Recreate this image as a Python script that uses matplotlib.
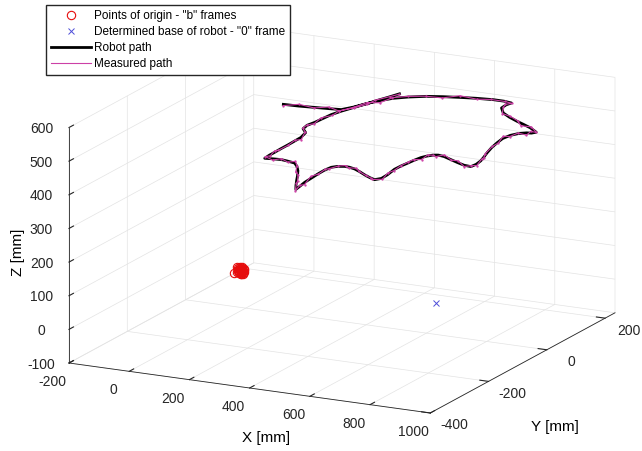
import numpy as np
import matplotlib
matplotlib.use('Agg')
import matplotlib.pyplot as plt
from matplotlib.transforms import ScaledTranslation
from mpl_toolkits.mplot3d import proj3d

W, H = 642, 451

# points of origin of the "b" frames [mm]
origin_x = [-32, -27, -36, -24, -39, -29, -34, -22, -41, -26, -37, -31, -20, -43, -28, -35, -25, -40, -30, -23, -38, -32, -21, -42, -27, -52]
origin_y = [15, 15, 15, 15, 15, 15, 15, 15, 15, 15, 15, 15, 15, 15, 15, 15, 15, 15, 15, 15, 15, 15, 15, 15, 15, 15]
origin_z = [0, 3, 6, -5, -3, -9, 10, 4, 2, 9, -8, -4, -1, -6, 12, 3, -10, 8, 6, 1, -1, -11, 8, 10, -2, -9]

# determined base of robot ("0" frame)
base_x, base_y, base_z = [643], [-10], [0]

# robot path [mm]
robot_x = [90, 138, 184, 230, 269, 289, 306, 326, 351, 385, 429, 475, 522, 570, 622, 658, 687, 682, 685, 714,
           751, 790, 822, 858, 895, 887, 873, 855, 842, 837, 843, 852, 865, 879, 888, 893, 890, 866, 835, 801,
           770, 748, 733, 722, 714, 709, 706, 702, 701, 709, 711, 699, 676, 650, 620, 594, 572, 555, 536, 524,
           520, 521, 524, 527, 533, 538, 519, 497, 475, 452, 427, 406, 377, 354, 327, 304, 301, 301, 300, 300,
           299, 298, 287, 261, 255, 261, 263, 267, 277, 291, 307, 318, 333, 346]
robot_y = [36, 38, 42, 46, 50, 71, 97, 121, 143, 160, 176, 186, 194, 201, 206, 206, 202, 189, 170, 146,
           129, 114, 103, 90, 72, 64, 62, 53, 38, 17, -8, -36, -65, -92, -111, -132, -147, -145, -136, -125,
           -115, -112, -116, -125, -136, -154, -173, -193, -214, -246, -269, -280, -273, -263, -250, -240, -235, -234, -239, -248,
           -267, -290, -316, -342, -364, -384, -364, -339, -313, -288, -266, -252, -247, -244, -246, -249, -230, -213, -190, -166,
           -143, -119, -91, -73, -53, -33, -14, 18, 43, 68, 96, 119, 145, 170]
robot_z = [500] * len(robot_x)

# measured path [mm]
meas_x = [93, 136, 188, 229, 265, 291, 306, 331, 348, 386, 424, 478, 521, 572, 618, 662, 685, 682, 688, 711,
          756, 789, 818, 859, 897, 882, 877, 853, 843, 834, 846, 852, 861, 881, 887, 897, 887, 869, 833, 805,
          769, 744, 735, 722, 719, 706, 707, 697, 704, 708, 713, 695, 680, 648, 620, 597, 569, 560, 535, 520,
          521, 523, 519, 531, 531, 539, 516, 500, 475, 448, 429, 405, 381, 351, 330, 302, 305, 300, 296, 302,
          299, 303, 284, 262, 250, 264, 262, 269, 273, 295, 305, 318, 336, 343]
meas_y = [33, 42, 41, 48, 46, 71, 100, 118, 144, 158, 180, 181, 196, 202, 202, 205, 207, 186, 173, 146,
          127, 118, 99, 92, 71, 67, 57, 54, 35, 22, -8, -34, -69, -93, -107, -134, -144, -148, -132, -126,
          -113, -116, -116, -122, -139, -153, -175, -189, -219, -244, -268, -284, -274, -258, -253, -237, -235, -236, -235, -252,
          -265, -291, -313, -347, -363, -387, -359, -339, -311, -292, -267, -248, -249, -241, -249, -245, -231, -211, -194, -166,
          -140, -122, -90, -75, -49, -38, -12, 19, 39, 67, 101, 116, 148, 170]
meas_z = [498, 503, 499, 504, 497, 500, 502, 496, 501, 503, 498, 499, 504, 497, 502, 500, 496, 503, 501, 498,
          504, 499, 497, 502, 500, 503, 496, 501, 498, 504, 499, 502, 497, 500, 503, 498, 501, 498, 503, 499,
          504, 497, 500, 502, 496, 501, 503, 498, 499, 504, 497, 502, 500, 496, 503, 501, 498, 504, 499, 497,
          502, 500, 503, 496, 501, 498, 504, 499, 502, 497, 500, 503, 498, 501, 498, 503, 499, 504, 497, 500,
          502, 496, 501, 503, 498, 499, 504, 497, 502, 500, 496, 503, 501, 498]

x_ticks = [-200, 0, 200, 400, 600, 800, 1000]
y_ticks = [-400, -200, 0, 200]
z_ticks = [-100, 0, 100, 200, 300, 400, 500, 600]

plt.rcParams['font.family'] = ['Liberation Sans', 'DejaVu Sans']
plt.rcParams['axes.unicode_minus'] = False
plt.rcParams['grid.color'] = '#e3e3e3'
plt.rcParams['grid.linewidth'] = 0.5

fig = plt.figure(figsize=(W / 100, H / 100), dpi=100)
ax = fig.add_axes([0, 0, 1, 1], projection='3d', proj_type='ortho')
ax.computed_zorder = False
ax.view_init(elev=15.9, azim=-63.2)
ax.set_box_aspect((405, 410, 245))

ax.plot(origin_x, origin_y, origin_z, 'o', mec=(0.9, 0.05, 0.05), mfc='none', ms=6, mew=0.8,
        label='Points of origin - "b" frames')
ax.plot(base_x, base_y, base_z, 'x', color=(0.3, 0.3, 0.85), ms=5, mew=0.7,
        label='Determined base of robot - "0" frame')
ax.plot(robot_x, robot_y, robot_z, '-', color='k', lw=2, label='Robot path')
ax.plot(meas_x, meas_y, meas_z, '-', color=(0.8, 0.25, 0.65), lw=0.8, label='Measured path')
ax.plot(meas_x, meas_y, meas_z, '.', color=(0.8, 0.25, 0.65), ms=1.3, label='_nolegend_')

ax.set_xlim(-200, 1000)
ax.set_ylim(-400, 234)
ax.set_zlim(-100, 600)
ax.set_xticks(x_ticks)
ax.set_yticks(y_ticks)
ax.set_zticks(z_ticks)
for axis in (ax.xaxis, ax.yaxis, ax.zaxis):
    axis.set_rotate_label(False)
ax.set_xlabel('X [mm]', fontsize=11, rotation=0)
ax.set_ylabel('Y [mm]', fontsize=11, rotation=0)
ax.set_zlabel('Z [mm]', fontsize=11, rotation=90)
ax.zaxis.set_ticks_position('lower')
ax.zaxis.set_label_position('lower')
for axis in (ax.xaxis, ax.yaxis, ax.zaxis):
    axis.set_pane_color((1, 1, 1, 1))
    axis.line.set_color((0.15, 0.15, 0.15))
    axis.line.set_linewidth(0.6)
    axis._axinfo['tick']['inward_factor'] = 0
    axis._axinfo['tick']['outward_factor'] = 0.3
ax.tick_params(labelsize=10, colors=(0.15, 0.15, 0.15))


def px_offset(dx, dy):
    # shift in screen pixels (y down)
    return ScaledTranslation(dx / 100, -dy / 100, fig.dpi_scale_trans)


def shift_ticklabels(axis, dx, dy):
    orig = axis.get_major_ticks

    def patched(numticks=None):
        ticks = orig(numticks)
        for t in ticks:
            t.label1.set_transform(ax.transData + px_offset(dx, dy))
        return ticks
    axis.get_major_ticks = patched


def shift_label(axis, dx, dy):
    orig = axis.label.set_position

    def patched(xy):
        px, py = ax.transData.transform(xy)
        orig(tuple(ax.transData.inverted().transform((px + dx, py - dy))))
    axis.label.set_position = patched


shift_ticklabels(ax.xaxis, -7, -5)
shift_ticklabels(ax.yaxis, 6, -9)
shift_ticklabels(ax.zaxis, 0, -8)
shift_label(ax.xaxis, 37, 13)
shift_label(ax.yaxis, -7, 33)
shift_label(ax.zaxis, 9, 2)

# fit the box into the same place as in the original figure
fig.canvas.draw()


def to_px(x, y, z):
    xs, ys, _ = proj3d.proj_transform(x, y, z, ax.M)
    return ax.transData.transform((xs, ys))


p0 = to_px(-200, -400, -100)
p1 = to_px(1000, 234, -100)
pos = ax.get_position()
L, B, S0 = pos.x0 * W, pos.y0 * H, pos.width * W
S1 = S0 * (615 - 69) / (p1[0] - p0[0])
f0 = (p0 - np.array([L, B])) / S0
ax.set_position([(69 - S1 * f0[0]) / W, ((H - 363) - S1 * f0[1]) / H, S1 / W, S1 / H])

ax.legend(loc='upper left', bbox_to_anchor=(46 / W, 1 - 5 / H), bbox_transform=fig.transFigure,
          borderaxespad=0, fontsize=8.5, fancybox=False, edgecolor=(0.15, 0.15, 0.15), framealpha=1,
          handlelength=3.4, handletextpad=0.3, labelspacing=0.35)
fig.savefig('out.png', dpi=100)
